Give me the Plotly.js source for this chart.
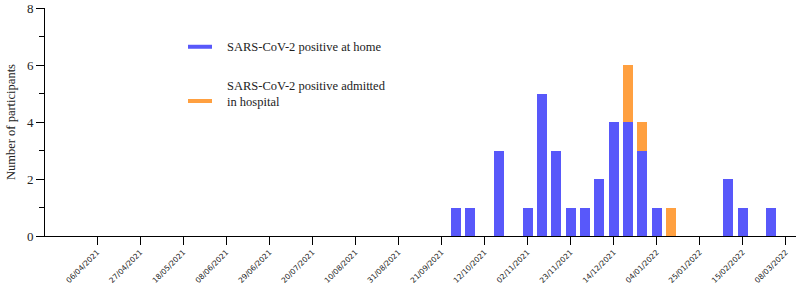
<!DOCTYPE html>
<html>
<head>
<meta charset="utf-8">
<script src="https://cdn.plot.ly/plotly-3.0.1.min.js"></script>
<style>html,body{margin:0;padding:0;background:#fff;}#chart{width:796px;height:285px;}</style>
</head>
<body>
<div id="chart"></div>
<script>
// Weekly dates (week start)
const weeks = ["2021-09-28","2021-10-05","2021-10-12","2021-10-19","2021-10-26","2021-11-02","2021-11-09","2021-11-16","2021-11-23","2021-11-30","2021-12-07","2021-12-14","2021-12-21","2021-12-28","2022-01-04","2022-01-11","2022-01-18","2022-01-25","2022-02-01","2022-02-08","2022-02-15","2022-02-22","2022-03-01"];
const positiveHome =     [1,1,0,3,0,1,5,3,1,1,2,4,4,3,1,0,0,0,0,2,1,0,1];
const positiveHospital = [0,0,0,0,0,0,0,0,0,0,0,0,2,1,0,1,0,0,0,0,0,0,0];
const seriesNames = ["SARS-CoV-2 positive at home", "SARS-CoV-2 positive admitted<br>in hospital"];
const yTitle = "Number of participants";
const tickDates = ["2021-04-06","2021-04-27","2021-05-18","2021-06-08","2021-06-29","2021-07-20","2021-08-10","2021-08-31","2021-09-21","2021-10-12","2021-11-02","2021-11-23","2021-12-14","2022-01-04","2022-01-25","2022-02-15","2022-03-08"];
const tickLabels = ["06/04/2021","27/04/2021","18/05/2021","08/06/2021","29/06/2021","20/07/2021","10/08/2021","31/08/2021","21/09/2021","12/10/2021","02/11/2021","23/11/2021","14/12/2021","04/01/2022","25/01/2022","15/02/2022","08/03/2022"];
const yTicks = [0,2,4,6,8];
const yMinorTicks = [1,3,5,7];

const DAY = 86400000;
const blue = "#5858FA";
const orange = "#FFA040";

const traces = [
  {type:"bar", x:weeks, y:positiveHome, name:seriesNames[0], marker:{color:blue}, width:4.9*DAY, showlegend:false},
  {type:"bar", x:weeks, y:positiveHospital, name:seriesNames[1], marker:{color:orange}, width:4.9*DAY, showlegend:false}
];

const serif = "Liberation Serif";
const layout = {
  width:796, height:285,
  margin:{l:45, r:0, t:8, b:49},
  paper_bgcolor:"#fff", plot_bgcolor:"#fff",
  barmode:"stack",
  showlegend:false,
  xaxis:{
    type:"date",
    range:["2021-03-11 12:00","2022-03-13"],
    tickmode:"array", tickvals:tickDates, ticktext:tickLabels,
    tickangle:-45,
    ticks:"outside", ticklen:8, tickcolor:"#000", tickwidth:1,
    showline:true, linecolor:"#000", linewidth:1,
    showgrid:false, zeroline:false,
    tickfont:{family:"DejaVu Sans", size:7.5, color:"#222"}
  },
  yaxis:{
    range:[0,8], tickmode:"array", tickvals:yTicks,
    ticklabeloverflow:"allow",
    ticks:"outside", ticklen:8, tickcolor:"#000", tickwidth:1,
    minor:{tickmode:"array", tickvals:yMinorTicks, ticks:"outside", ticklen:5, tickcolor:"#000"},
    showline:true, linecolor:"#000", linewidth:1,
    showgrid:false, zeroline:false,
    tickfont:{family:serif, size:13, color:"#222"},
    title:{text:yTitle, font:{family:serif, size:12.5, color:"#222"}, standoff:8}
  },
  shapes:[
    {type:"line", xref:"paper", yref:"paper", x0:0.1904, x1:0.2224, y0:0.830, y1:0.830, line:{color:blue, width:4}},
    {type:"line", xref:"paper", yref:"paper", x0:0.1904, x1:0.2224, y0:0.592, y1:0.592, line:{color:orange, width:4}}
  ],
  annotations:[
    {xref:"paper", yref:"paper", x:0.2397, y:0.830, xanchor:"left", yanchor:"middle", text:seriesNames[0], showarrow:false, align:"left", font:{family:serif, size:12.5, color:"#222"}},
    {xref:"paper", yref:"paper", x:0.2397, y:0.625, xanchor:"left", yanchor:"middle", text:seriesNames[1], showarrow:false, align:"left", font:{family:serif, size:12.5, color:"#222"}}
  ]
};

Plotly.newPlot("chart", traces, layout, {displayModeBar:false, staticPlot:true});
</script>
</body>
</html>
